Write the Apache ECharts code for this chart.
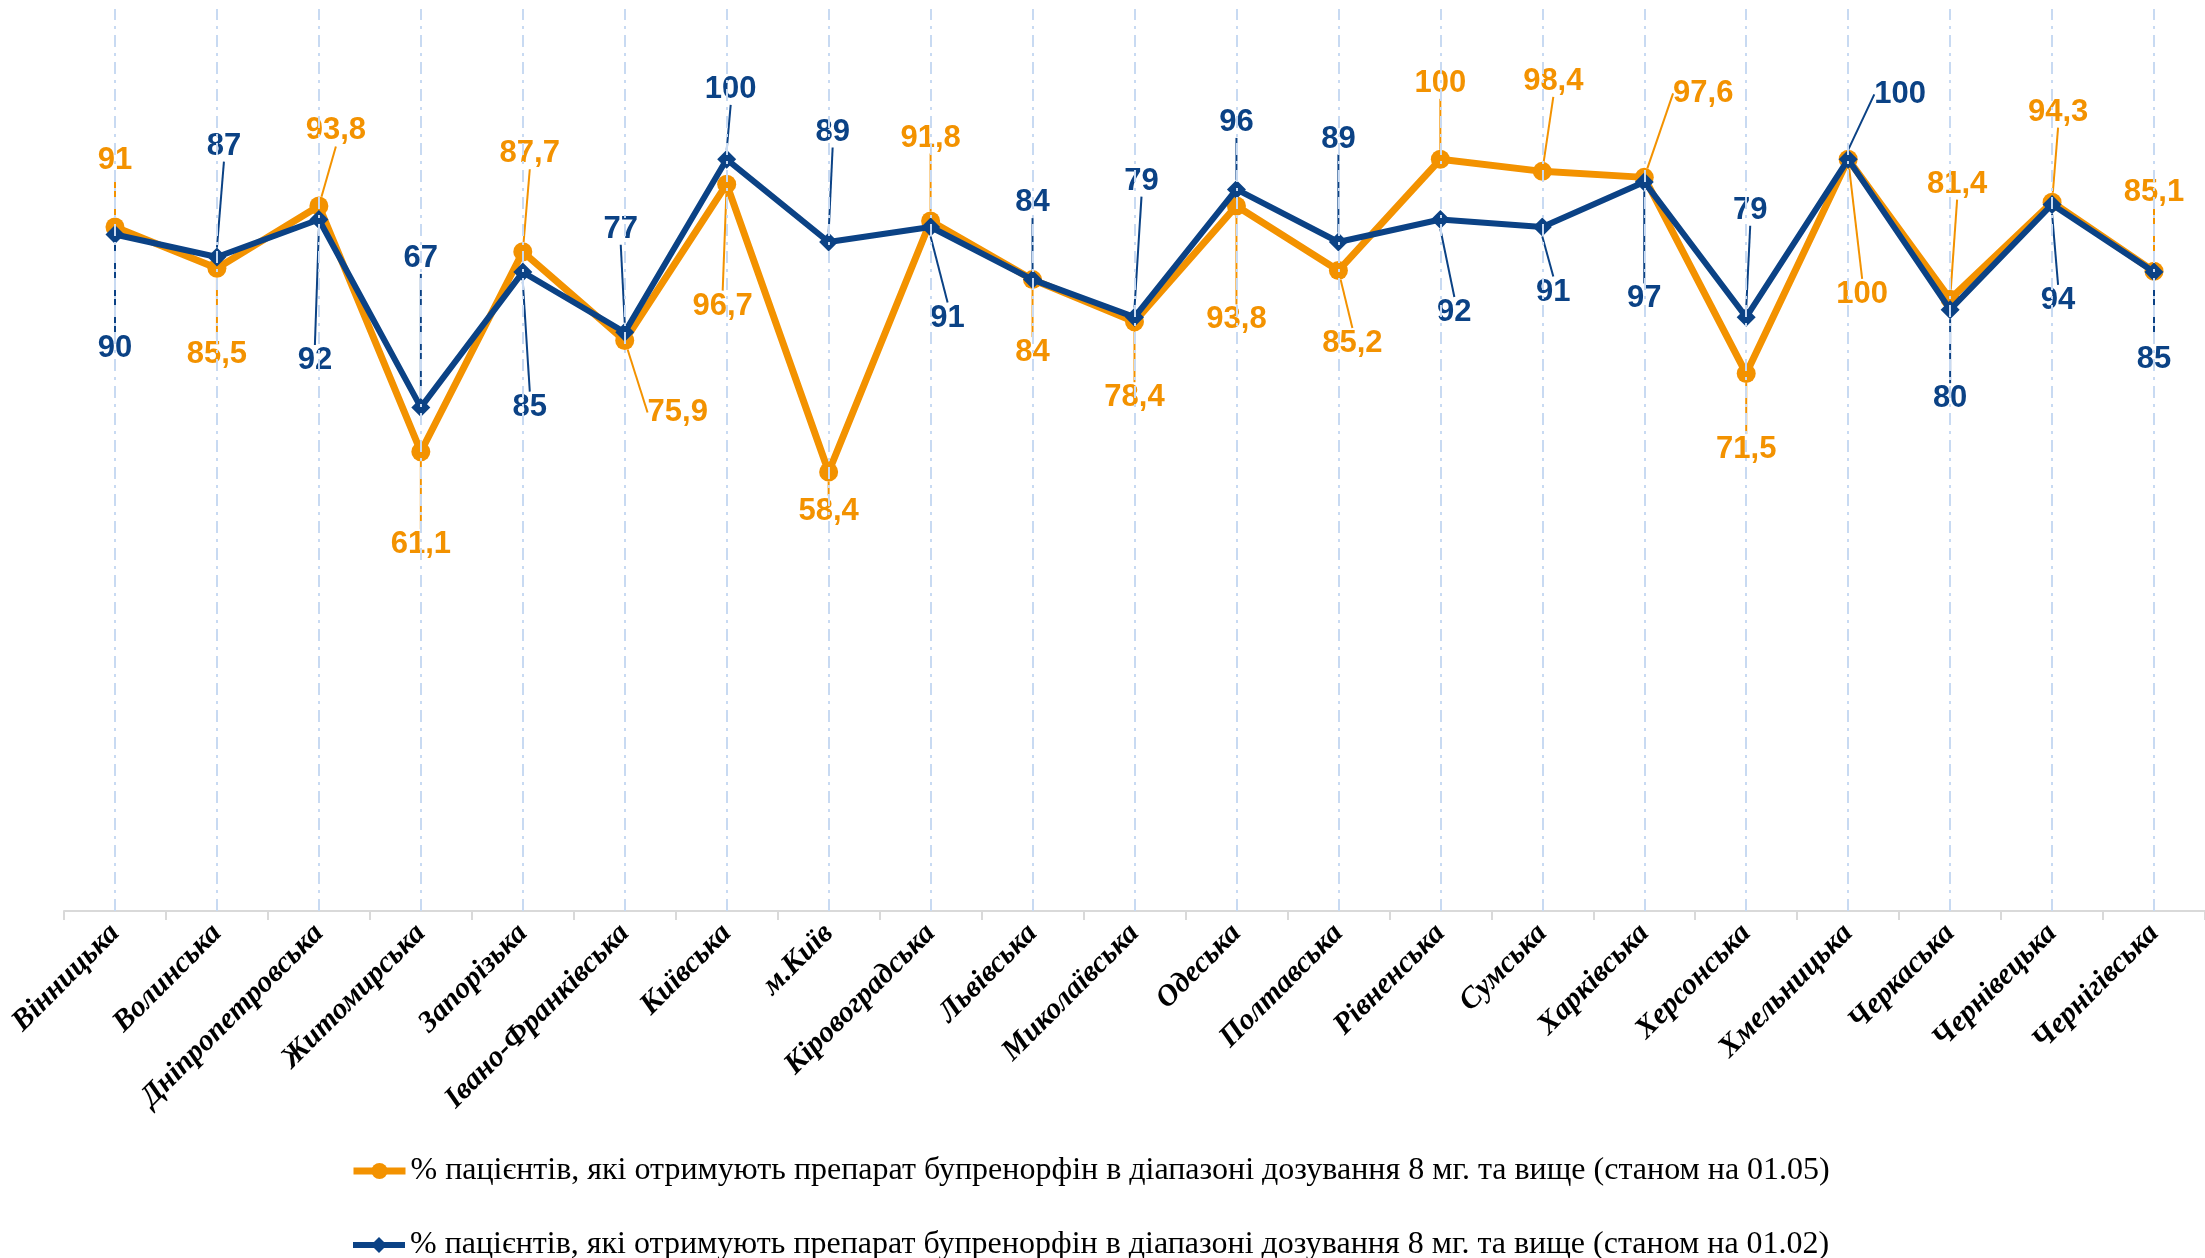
<!DOCTYPE html>
<html>
<head>
<meta charset="utf-8">
<script src="https://cdn.jsdelivr.net/npm/echarts@6/dist/echarts.min.js"></script>
<style>
  html, body { margin: 0; padding: 0; background: #fff; }
  #chart { width: 2205px; height: 1258px; }
</style>
</head>
<body>
<div id="chart"></div>
<script>
// області
const regions = [
  'Вінницька', 'Волинська', 'Дніпропетровська', 'Житомирська', 'Запорізька',
  'Івано-Франківська', 'Київська', 'м.Київ', 'Кіровоградська', 'Львівська',
  'Миколаївська', 'Одеська', 'Полтавська', 'Рівненська', 'Сумська',
  'Харківська', 'Херсонська', 'Хмельницька', 'Черкаська', 'Чернівецька', 'Чернігівська'
];

// станом на 01.05
const may = [91, 85.5, 93.8, 61.1, 87.7, 75.9, 96.7, 58.4, 91.8, 84, 78.4, 93.8, 85.2, 100, 98.4, 97.6, 71.5, 100, 81.4, 94.3, 85.1];
// станом на 01.02
const feb = [90, 87, 92, 67, 85, 77, 100, 89, 91, 84, 79, 96, 89, 92, 91, 97, 79, 100, 80, 94, 85];

const nameMay = '% пацієнтів, які отримують препарат бупренорфін в діапазоні дозування 8 мг. та вище (станом на 01.05)';
const nameFeb = '% пацієнтів, які отримують препарат бупренорфін в діапазоні дозування 8 мг. та вище (станом на 01.02)';

// зсуви підписів (як у вихідній діаграмі)
const mayLabelDx = [0, 0, 17, 0, 7, 53, -4, 0, 0, 0, 0, 0, 14, 0, 11, 59, 0, 14, 7, 6, 0];
const mayLabelDy = [-67, 86, -75, 93, -98, 72, 122, 39, -83, 73, 76, 114, 73, -76, -90, -84, 76, 135, -115, -90, -79];
const febLabelDx = [0, 7, -4, 0, 7, -4, 4, 4, 17, 0, 7, 0, 0, 14, 11, 0, 4, 52, 0, 6, 0];
const febLabelDy = [114, -111, 141, -149, 135, -103, -70, -110, 91, -77, -136, -67, -103, 93, 65, 117, -107, -65, 89, 96, 87];

const ORANGE = '#f39200';
const BLUE = '#0b4285';

const chartInstance = echarts.init(document.getElementById('chart'));

const fmt = (p) => String(p.value).replace('.', ',');

const legendText = { fontFamily: 'Liberation Serif', fontSize: 32, color: '#000' };

const option = {
  animation: false,
  grid: { left: 64, right: 0, top: 9, bottom: 347, containLabel: false },
  legend: [
    {
      data: [nameMay],
      left: 345,
      top: 1150,
      itemWidth: 52,
      itemHeight: 20,
      lineStyle: { width: 7 },
      textStyle: legendText
    },
    {
      data: [nameFeb],
      left: 345,
      top: 1224,
      itemWidth: 52,
      itemHeight: 20,
      lineStyle: { width: 6 },
      textStyle: legendText
    }
  ],
  xAxis: {
    type: 'category',
    data: regions,
    boundaryGap: true,
    axisLine: { lineStyle: { color: '#d9d9d9', width: 2 } },
    axisTick: { show: true, interval: 0, length: 9, lineStyle: { color: '#d9d9d9', width: 2 } },
    axisLabel: {
      interval: 0,
      rotate: 45,
      margin: 18,
      fontFamily: 'Liberation Serif',
      fontWeight: 'bold',
      fontStyle: 'italic',
      fontSize: 30,
      color: '#000'
    },
    splitLine: { show: false }
  },
  yAxis: {
    type: 'value',
    min: 0,
    max: 120,
    show: false,
    splitLine: { show: false }
  },
  series: [
    {
      // вертикальні пунктирні лінії по центру категорій
      name: 'grid',
      type: 'line',
      data: regions.map(() => null),
      silent: true,
      z: 1,
      markLine: {
        silent: true,
        symbol: ['none', 'none'],
        label: { show: false },
        lineStyle: { color: '#c8daf2', width: 2, type: [12, 6, 3, 6] },
        data: regions.map((r) => ({ xAxis: r }))
      }
    },
    {
      name: nameMay,
      type: 'line',
      data: may,
      z: 3,
      symbol: 'circle',
      symbolSize: 19,
      lineStyle: { color: ORANGE, width: 7 },
      itemStyle: { color: ORANGE },
      label: {
        show: true,
        position: 'inside',
        formatter: fmt,
        color: ORANGE,
        fontFamily: 'Liberation Sans',
        fontWeight: 'bold',
        fontSize: 31
      },
      labelLine: { show: true, lineStyle: { color: ORANGE, width: 2 } },
      labelLayout: (params) => ({
        dx: mayLabelDx[params.dataIndex],
        dy: mayLabelDy[params.dataIndex]
      })
    },
    {
      name: nameFeb,
      type: 'line',
      data: feb,
      z: 4,
      symbol: 'diamond',
      symbolSize: 19,
      lineStyle: { color: BLUE, width: 6 },
      itemStyle: { color: BLUE },
      label: {
        show: true,
        position: 'inside',
        formatter: fmt,
        color: BLUE,
        fontFamily: 'Liberation Sans',
        fontWeight: 'bold',
        fontSize: 31
      },
      labelLine: { show: true, lineStyle: { color: BLUE, width: 2 } },
      labelLayout: (params) => ({
        dx: febLabelDx[params.dataIndex],
        dy: febLabelDy[params.dataIndex]
      })
    }
  ]
};

chartInstance.setOption(option);
</script>
</body>
</html>
